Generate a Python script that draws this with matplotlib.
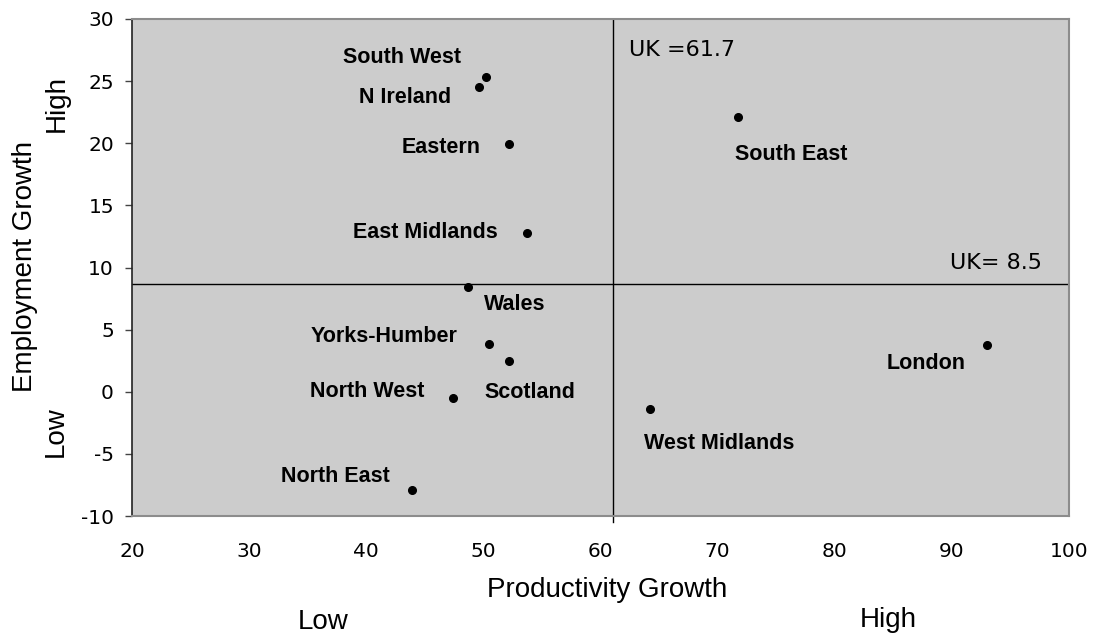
import matplotlib
matplotlib.use("Agg")
import matplotlib.pyplot as plt

plt.rcParams["axes.unicode_minus"] = False

# regions and growth values
regions = ["South West", "N Ireland", "Eastern", "East Midlands", "Wales",
           "Yorks-Humber", "Scotland", "North West", "North East",
           "London", "West Midlands", "South East"]
productivity = [50.2, 49.6, 52.2, 53.7, 48.7, 50.5, 52.2, 47.4, 43.9, 93.0, 64.2, 71.7]
employment = [25.3, 24.5, 19.9, 12.75, 8.4, 3.85, 2.5, -0.5, -7.9, 3.75, -1.4, 22.1]

# UK averages (line positions as drawn)
uk_prod_line = 61.1
uk_emp_line = 8.7

# label offsets from each dot, in pixels
label_dx = [-84, -74, -68, -101, 47, -105, 21, -86, -77, -61, 69, 54]
label_dy = [20, -10, -3, 1, -17, 7, -32, 6, 13, -18, -34, -37]

fig = plt.figure(figsize=(10.94, 6.35), dpi=100)
ax = fig.add_axes([132/1094, 1-516/635, (1069-132)/1094, (516-19)/635])
ax.set_facecolor("#cccccc")

ax.set_xlim(20, 100)
ax.set_ylim(-10, 30)
ax.set_xticks(range(20, 101, 10))
ax.set_yticks(range(-10, 31, 5))

ax.axvline(uk_prod_line, ymin=-0.012, ymax=1, color="black", lw=1, clip_on=False)
ax.axhline(uk_emp_line, color="black", lw=1)

ax.plot(productivity, employment, "o", color="black", ms=5.5, ls="none")

for name, x, y, dx, dy in zip(regions, productivity, employment, label_dx, label_dy):
    ax.annotate(name, (x, y), xytext=(dx, dy), textcoords="offset pixels",
                ha="center", va="center", fontsize=15.5, fontweight="bold",
                family="Liberation Sans")

ax.text(62.45, 27.5, "UK =61.7", ha="left", va="center", fontsize=16)
ax.text(97.7, 10.33, "UK= 8.5", ha="right", va="center", fontsize=16)

for s in ["top", "right", "bottom"]:
    ax.spines[s].set_color("#8c8c8c")
    ax.spines[s].set_linewidth(1.5)
ax.spines["left"].set_color("#222222")
ax.spines["left"].set_linewidth(1.2)

ax.tick_params(axis="y", length=5, width=1, color="#444444", pad=8, labelsize=14.5)
ax.tick_params(axis="x", length=0, pad=19, labelsize=14.5)

# axis titles
fig.text(607/1094, 1-590/635, "Productivity Growth", ha="center", va="center",
         fontsize=20, family="Liberation Sans")
fig.text(323/1094, 1-622/635, "Low", ha="center", va="center",
         fontsize=20, family="Liberation Sans")
fig.text(888/1094, 1-620/635, "High", ha="center", va="center",
         fontsize=20, family="Liberation Sans")
fig.text(25/1094, 1-267/635, "Employment Growth", ha="center", va="center",
         rotation=90, fontsize=20, family="Liberation Sans")
fig.text(57/1094, 1-103/635, "High", ha="center", va="center",
         rotation=90, fontsize=20, family="Liberation Sans")
fig.text(56/1094, 1-432/635, "Low", ha="center", va="center",
         rotation=90, fontsize=20, family="Liberation Sans")

fig.savefig("out.png", dpi=100)
